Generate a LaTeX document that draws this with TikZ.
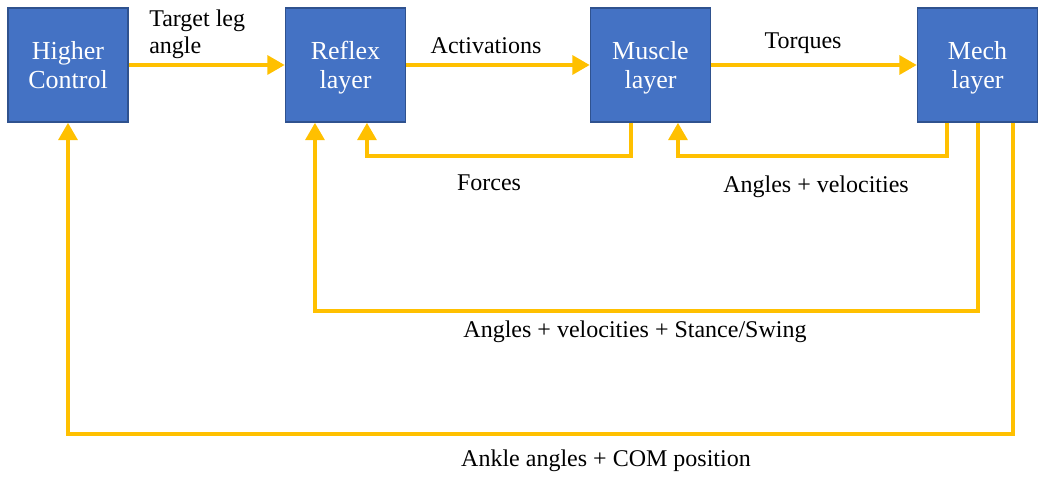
\documentclass[tikz,border=0pt]{standalone}
\usepackage{fontspec}
\setmainfont{Liberation Serif}
\usetikzlibrary{arrows.meta,positioning}
\definecolor{layerblue}{HTML}{4472C4}
\definecolor{layeredge}{HTML}{2F528F}
\definecolor{sigyellow}{HTML}{FFC000}
\tikzset{
  layerbox/.style ={draw=layeredge,line width=1.1pt,fill=layerblue,text=white,align=center,
                    font=\fontsize{19.5}{22}\selectfont,inner sep=0pt,text depth=0pt,
                    minimum width=90pt,minimum height=85.5pt},
  sigflow/.style  ={-{Triangle[length=13pt,width=14pt]},draw=sigyellow,line width=3pt},
  siglabel/.style ={font=\fontsize{18}{20}\selectfont,inner sep=0pt},
}

\begin{document}
\begin{tikzpicture}[x=0.75pt,y=-0.75pt]
\useasboundingbox (0,0) rectangle (1042,477);
% Layers
\node[layerbox] (hc)     at (68,65)    {Higher\\Control};
\node[layerbox] (reflex) at (345.5,65) {Reflex\\layer};
\node[layerbox] (muscle) at (650.5,65) {Muscle\\layer};
\node[layerbox] (mech)   at (977.5,65) {Mech\\layer};
% Forward path
\draw[sigflow] (hc) -- (reflex); \draw[sigflow] (reflex) -- (muscle); \draw[sigflow] (muscle) -- (mech);
% Feedback paths
\draw[sigflow] ([xshift=-14.6pt]muscle.south) -- ++(0,33) -| ([xshift=16.1pt]reflex.south);
\draw[sigflow] ([xshift=-22.9pt]mech.south) -- ++(0,33) -| ([xshift=20.6pt]muscle.south);
\draw[sigflow] (mech.south) -- ++(0,188) -| ([xshift=-22.9pt]reflex.south);
\draw[sigflow] ([xshift=26.6pt]mech.south) -- ++(0,311) -| (hc.south);
% Signal labels
\node[siglabel,align=left,anchor=west] (tgt) at (149,34) {Target leg\\angle};
\node[siglabel] (act)  at (486,46)  {Activations};
\node[siglabel] (torq) at (803,43)  {Torques};
\node[siglabel] (frc)  at (489,183) {Forces};
\node[siglabel] (angv) at (816,187) {Angles + velocities};
\node[siglabel] (angs) at (635,332) {Angles + velocities + Stance/Swing};
\node[siglabel] (ankl) at (606,461) {Ankle angles + COM position};
\end{tikzpicture}
\end{document}
